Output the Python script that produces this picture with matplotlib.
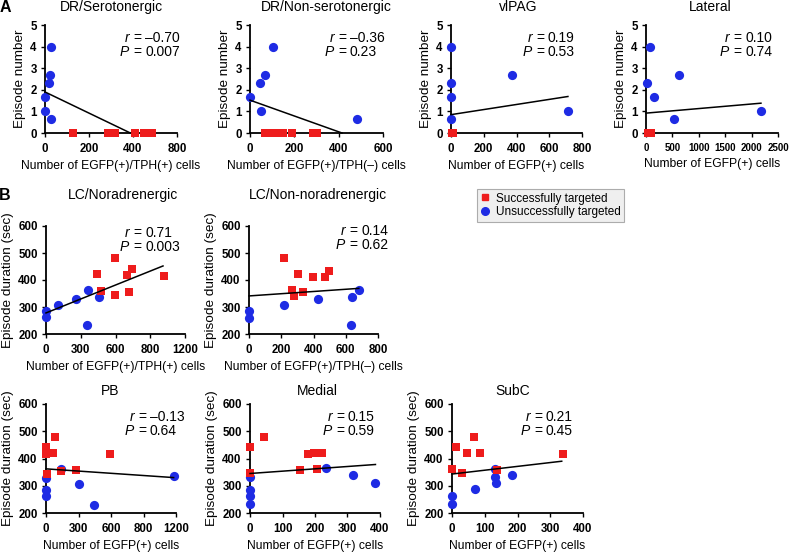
import matplotlib
matplotlib.use("Agg")
import matplotlib.pyplot as plt
from matplotlib.lines import Line2D

plt.rcParams["font.family"] = ["Liberation Sans", "DejaVu Sans"]

RED = "#ee1c1c"
BLUE = "#1e2be4"
W, H = 799, 556

# ------------------ DATA ------------------
# A: DR/Serotonergic (x plotted on the tick grid, last tick labelled 800)
dr5_blue_x = [29, 22, 19, 0, 0, 29]
dr5_blue_y = [4.0, 2.67, 2.33, 1.67, 1.0, 0.67]
dr5_red_x = [129, 285, 300, 318, 409, 448, 485]
dr5_red_y = [0, 0, 0, 0, 0, 0, 0]
dr5_fit_x = [0, 388]
dr5_fit_y = [1.9, 0]

# A: DR/Non-serotonergic
drn_blue_x = [105, 68, 45, 0, 50, 483]
drn_blue_y = [4.0, 2.67, 2.33, 1.67, 1.0, 0.67]
drn_red_x = [68, 100, 125, 150, 190, 285, 303]
drn_red_y = [0, 0, 0, 0, 0, 0, 0]
drn_fit_x = [0, 415]
drn_fit_y = [1.52, 0]

# A: vlPAG
vl_blue_x = [0, 0, 0, 0, 371, 714]
vl_blue_y = [4.0, 2.33, 1.67, 0.67, 2.67, 1.0]
vl_red_x = [6, 10, 14]
vl_red_y = [0, 0, 0]
vl_fit_x = [0, 714]
vl_fit_y = [0.85, 1.69]

# A: Lateral
lat_blue_x = [76, 25, 158, 627, 538, 2177]
lat_blue_y = [4.0, 2.33, 1.67, 2.67, 0.67, 1.0]
lat_red_x = [30, 100]
lat_red_y = [0, 0]
lat_fit_x = [0, 2177]
lat_fit_y = [0.92, 1.38]

# B: LC/Noradrenergic (x on tick grid 0..1200, 4th tick labelled 800)
lcn_blue_x = [0, 0, 107, 261, 362, 454, 356]
lcn_blue_y = [286, 262, 308, 330, 362, 337, 232]
lcn_red_x = [439, 592, 479, 592, 699, 745, 715, 1015]
lcn_red_y = [421, 480, 361, 344, 419, 442, 357, 413]
lcn_fit_x = [0, 1010]
lcn_fit_y = [278, 452]

# B: LC/Non-noradrenergic
lco_blue_x = [0, 0, 214, 430, 636, 681, 632]
lco_blue_y = [286, 261, 308, 330, 338, 363, 232]
lco_red_x = [214, 302, 265, 280, 337, 395, 470, 497]
lco_red_y = [481, 421, 363, 342, 357, 410, 412, 432]
lco_fit_x = [0, 681]
lco_fit_y = [341, 369]

# B: PB
pb_blue_x = [0, 0, 0, 138, 308, 446, 1178]
pb_blue_y = [328, 286, 261, 361, 306, 231, 337]
pb_red_x = [0, 0, 80, 64, 9, 138, 274, 594]
pb_red_y = [441, 418, 478, 420, 343, 353, 359, 416]
pb_fit_x = [0, 1178]
pb_fit_y = [362, 330]

# B: Medial
med_blue_x = [0, 0, 0, 0, 235, 317, 386]
med_blue_y = [331, 286, 264, 233, 364, 339, 309]
med_red_x = [0, 0, 44, 178, 196, 223, 153, 206]
med_red_y = [441, 345, 480, 418, 421, 419, 357, 361]
med_fit_x = [0, 386]
med_fit_y = [345, 378]

# B: SubC
sub_blue_x = [0, 0, 69, 131, 131, 134, 182]
sub_blue_y = [263, 233, 287, 331, 363, 309, 339]
sub_red_x = [0, 13, 30, 45, 66, 84, 138, 340]
sub_red_y = [360, 443, 346, 419, 480, 421, 356, 415]
sub_fit_x = [0, 335]
sub_fit_y = [343, 390]

stats_r = ["–0.70", "–0.36", "0.19", "0.10", "0.71", "0.14", "–0.13", "0.15", "0.21"]
stats_p = ["0.007", "0.23", "0.53", "0.74", "0.003", "0.62", "0.64", "0.59", "0.45"]

titles = ["DR/Serotonergic", "DR/Non-serotonergic", "vlPAG", "Lateral",
          "LC/Noradrenergic", "LC/Non-noradrenergic", "PB", "Medial", "SubC"]
xlabels = ["Number of EGFP(+)/TPH(+) cells", "Number of EGFP(+)/TPH(–) cells",
           "Number of EGFP(+) cells", "Number of EGFP(+) cells",
           "Number of EGFP(+)/TPH(+) cells", "Number of EGFP(+)/TPH(–) cells",
           "Number of EGFP(+) cells", "Number of EGFP(+) cells", "Number of EGFP(+) cells"]

ticks_dr5 = [0, 200, 400, 600]
labels_dr5 = ["0", "200", "400", "800"]
ticks_lc = [0, 300, 600, 900, 1200]
labels_lc = ["0", "300", "600", "800", "1200"]
ticks_600 = [0, 200, 400, 600]
ticks_800 = [0, 200, 400, 600, 800]
ticks_2500 = [0, 500, 1000, 1500, 2000, 2500]
ticks_400 = [0, 100, 200, 300, 400]
count_ticks = [0, 1, 2, 3, 4, 5]
dur_ticks = [200, 300, 400, 500, 600]

# ------------------ LAYOUT (pixels: left, right, top, bottom) ------------------
# eq = x position (px) of the "=" sign in the r / P annotation
panels = [
    dict(box=(45, 177, 25, 133), blue=(dr5_blue_x, dr5_blue_y), red=(dr5_red_x, dr5_red_y),
         fit=(dr5_fit_x, dr5_fit_y), xt=ticks_dr5, xtl=labels_dr5, yt=count_ticks,
         ylabel="Episode number", eq=137, ry=38, ty=7, tx=111),
    dict(box=(250, 383, 25, 133), blue=(drn_blue_x, drn_blue_y), red=(drn_red_x, drn_red_y),
         fit=(drn_fit_x, drn_fit_y), xt=ticks_600, xtl=None, yt=count_ticks,
         ylabel="Episode number", eq=342, ry=38, ty=7, tx=326),
    dict(box=(451, 582, 25, 133), blue=(vl_blue_x, vl_blue_y), red=(vl_red_x, vl_red_y),
         fit=(vl_fit_x, vl_fit_y), xt=ticks_800, xtl=None, yt=count_ticks,
         ylabel="Episode number", eq=540, ry=38, ty=7, tx=518),
    dict(box=(646, 778, 25, 133), blue=(lat_blue_x, lat_blue_y), red=(lat_red_x, lat_red_y),
         fit=(lat_fit_x, lat_fit_y), xt=ticks_2500, xtl=None, yt=count_ticks,
         ylabel="Episode number", eq=737, ry=38, ty=7, tx=710, xfs=7),
    dict(box=(46, 185, 226, 334), blue=(lcn_blue_x, lcn_blue_y), red=(lcn_red_x, lcn_red_y),
         fit=(lcn_fit_x, lcn_fit_y), xt=ticks_lc, xtl=labels_lc, yt=dur_ticks,
         ylabel="Episode duration (sec)", eq=137, ry=233, ty=195, tx=123),
    dict(box=(249, 378, 226, 334), blue=(lco_blue_x, lco_blue_y), red=(lco_red_x, lco_red_y),
         fit=(lco_fit_x, lco_fit_y), xt=ticks_800, xtl=None, yt=dur_ticks,
         ylabel="Episode duration (sec)", eq=353, ry=231, ty=195, tx=318),
    dict(box=(46, 176, 404, 513), blue=(pb_blue_x, pb_blue_y), red=(pb_red_x, pb_red_y),
         fit=(pb_fit_x, pb_fit_y), xt=ticks_lc, xtl=labels_lc, yt=dur_ticks,
         ylabel="Episode duration (sec)", eq=142, ry=417, ty=391, tx=110),
    dict(box=(250, 380, 404, 513), blue=(med_blue_x, med_blue_y), red=(med_red_x, med_red_y),
         fit=(med_fit_x, med_fit_y), xt=ticks_400, xtl=None, yt=dur_ticks,
         ylabel="Episode duration (sec)", eq=340, ry=417, ty=391, tx=317),
    dict(box=(452, 583, 404, 513), blue=(sub_blue_x, sub_blue_y), red=(sub_red_x, sub_red_y),
         fit=(sub_fit_x, sub_fit_y), xt=ticks_400, xtl=None, yt=dur_ticks,
         ylabel="Episode duration (sec)", eq=538, ry=417, ty=391, tx=513),
]

# ------------------ PLOT ------------------
fig = plt.figure(figsize=(W / 100, H / 100), dpi=100)
FS = 10


def ftext(x, y, s, **kw):
    fig.text(x / W, 1 - y / H, s, **kw)


for i, p in enumerate(panels):
    l, r, t, b = p["box"]
    ax = fig.add_axes([l / W, 1 - b / H, (r - l) / W, (b - t) / H])
    ax.scatter(*p["blue"], s=44, marker="o", color=BLUE, linewidths=0, zorder=3, clip_on=False)
    ax.scatter(*p["red"], s=36, marker="s", color=RED, linewidths=0, zorder=4, clip_on=False)
    ax.plot(*p["fit"], color="black", lw=1.1, zorder=5, clip_on=False)

    ax.set_xlim(p["xt"][0], p["xt"][-1])
    ax.set_ylim(p["yt"][0], p["yt"][-1])
    ax.set_xticks(p["xt"])
    if p["xtl"] is not None:
        ax.set_xticklabels(p["xtl"])
    ax.set_yticks(p["yt"])
    for side in ["top", "right"]:
        ax.spines[side].set_visible(False)
    for side in ["left", "bottom"]:
        ax.spines[side].set_linewidth(1.3)
    ax.tick_params(direction="out", length=3, width=1.0, labelsize=8.3)
    ax.tick_params(axis="x", pad=4.5, labelsize=p.get("xfs", 8.3))
    ax.tick_params(axis="y", pad=3)
    for lab in ax.get_xticklabels() + ax.get_yticklabels():
        lab.set_fontweight("bold")

    ax.set_xlabel(xlabels[i], fontsize=8.7, labelpad=3)
    ax.set_ylabel(p["ylabel"], fontsize=9.7, labelpad=3)
    ftext(p["tx"], p["ty"], titles[i], ha="center", va="center", fontsize=FS)

    eq, ry = p["eq"], p["ry"]
    for k, (sym, val) in enumerate([("r", stats_r[i]), ("P", stats_p[i])]):
        yy = ry + 14 * k
        ftext(eq - 8, yy, sym, style="italic", ha="right", va="center", fontsize=FS)
        ftext(eq, yy, "=", ha="center", va="center", fontsize=FS)
        ftext(eq + 8, yy, val, ha="left", va="center", fontsize=FS)

ftext(5, 7, "A", fontsize=11.5, fontweight="bold", ha="center", va="center")
ftext(5, 195, "B", fontsize=11.5, fontweight="bold", ha="center", va="center")

handles = [
    Line2D([], [], marker="s", color=RED, linestyle="none", markersize=5),
    Line2D([], [], marker="o", color=BLUE, linestyle="none", markersize=5.5),
]
leg = fig.legend(handles, ["Successfully targeted", "Unsuccessfully targeted"],
                 loc="upper left", bbox_to_anchor=(477 / W, 1 - 189 / H), fontsize=8.5,
                 frameon=True, fancybox=False, handlelength=0.8, handletextpad=0.5,
                 borderpad=0.3, labelspacing=0.15, borderaxespad=0)
leg.get_frame().set_facecolor("#ebebeb")
leg.get_frame().set_edgecolor("#9a9a9a")
leg.get_frame().set_linewidth(0.8)

fig.savefig("out.png", dpi=100)
plt.close(fig)
